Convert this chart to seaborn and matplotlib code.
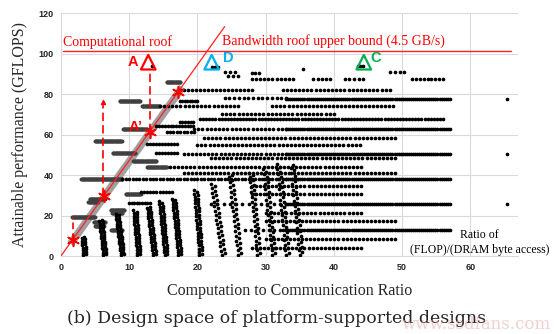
import numpy as np
import pandas as pd
import matplotlib
matplotlib.use("Agg")
import matplotlib.pyplot as plt
import seaborn as sns

# ---- design-space data -------------------------------------------------
# Dense runs of designs just left of the bandwidth roof: (perf, ctc_from, ctc_to)
seg_perf = [85.8, 76.4, 74.0, 62.5, 57.0, 51.0, 47.0, 44.2, 38.2, 30.5, 28.3, 26.5,
            22.8, 21.0, 19.4, 17.0, 15.0, 13.0]
seg_lo   = [15.5, 8.6, 11.9, 9.1, 5.0, 7.6, 10.6, 12.6, 3.0, 9.5, 4.2, 4.0,
            7.3, 7.5, 1.6, 4.8, 5.0, 7.4]
seg_hi   = [17.5, 11.6, 14.5, 12.6, 8.9, 10.9, 14.0, 15.5, 9.0, 11.7, 6.4, 5.4,
            9.3, 9.0, 5.0, 6.5, 6.3, 9.0]

# Rows of designs at a fixed performance level: (perf, ctc_from, ctc_to, spacing)
row_perf = [93.5, 94.0, 94.0, 91.0, 91.0, 90.3, 92.5, 88.8, 87.3, 87.3, 87.3, 87.3,
            81.9, 81.9, 77.4, 78.0, 76.4, 74.0, 74.0, 70.0, 67.5, 66.0, 64.0,
            62.5, 62.5, 61.0, 58.5, 55.4, 55.0, 51.0, 50.6, 50.6, 48.6, 44.2,
            41.0, 38.2, 38.2, 34.7, 31.8, 30.8, 26.0, 25.8, 25.8, 21.3, 17.4,
            12.9, 12.9, 8.4, 4.0, 77.4, 50.6, 25.8]
row_lo   = [22.2, 13.3, 43.5, 24.0, 48.3, 28.0, 35.5, 24.5, 28.0, 37.0, 41.6, 51.5,
            17.5, 32.5, 33.0, 24.0, 17.4, 14.5, 31.0, 23.6, 20.4, 17.4, 14.0,
            33.0, 19.5, 15.5, 21.0, 12.6, 20.0, 14.0, 33.0, 18.0, 22.0, 16.0,
            18.0, 9.0, 33.0, 28.0, 11.7, 28.0, 10.0, 33.0, 22.0, 30.0, 30.0,
            33.0, 27.0, 30.0, 28.0, 65.4, 65.4, 65.4]
row_hi   = [23.0, 13.3, 44.3, 25.5, 50.3, 29.0, 35.5, 26.0, 34.0, 39.5, 44.3, 56.0,
            28.0, 48.2, 57.0, 33.0, 20.0, 26.0, 48.7, 40.0, 56.0, 19.4, 19.4,
            57.0, 33.0, 19.5, 49.0, 17.0, 43.8, 17.0, 57.0, 33.0, 49.0, 44.0,
            49.0, 33.0, 57.0, 44.0, 16.3, 44.0, 13.0, 57.0, 33.0, 44.0, 49.0,
            57.0, 33.0, 49.0, 44.0, 65.4, 65.4, 65.4]
row_step = [0.4, 1.0, 0.4, 0.7, 0.6, 0.5, 1.0, 0.6, 0.6, 0.6, 0.6, 0.6,
            0.6, 0.6, 0.3, 0.7, 0.4, 0.6, 0.6, 0.6, 0.45, 0.4, 0.4,
            0.3, 0.6, 0.5, 0.6, 0.45, 0.6, 0.45, 0.3, 0.6, 0.6, 0.6,
            0.6, 0.5, 0.3, 0.6, 0.45, 0.6, 0.4, 0.3, 0.9, 0.6, 0.6,
            0.3, 0.9, 0.6, 0.6, 1.0, 1.0, 1.0]

# Columns of designs at low performance: (ctc at 0, ctc at top, top perf, spacing)
col_x0   = [3.3, 6.2, 8.8, 11.2, 13.5, 15.2, 17.2, 20.3, 23.6, 26.0,
            28.8, 31.0, 33.0, 35.0]
col_x1   = [3.0, 5.6, 8.0, 10.6, 12.6, 14.4, 16.3, 19.5, 22.0, 24.6,
            27.6, 29.6, 31.6, 33.6]
col_top  = [9.5, 18.0, 21.0, 23.0, 25.0, 27.0, 29.0, 33.0, 36.0, 40.0,
            42.0, 44.0, 46.0, 46.0]
col_step = [1.2, 1.2, 1.2, 1.3, 1.3, 1.4, 1.4, 1.6, 2.2, 2.4,
            2.4, 2.5, 2.5, 2.7]

# Roofline parameters
comp_roof = 101.0
bw_slope = 4.72
opt_ctc = [1.7, 6.3, 13.0, 17.2]

# Annotated designs
tri_names  = ["A", "D", "C"]
tri_ctc    = [12.8, 22.1, 44.4]
tri_perf   = [95.7, 95.7, 95.7]
tri_colors = ["#FF0000", "#00B0F0", "#00B050"]

xticks = [0, 10, 20, 30, 40, 50, 60]
yticks = [0, 20, 40, 60, 80, 100, 120]


def expand_rows():
    xs, ys = [], []
    for p, lo, hi, st in zip(row_perf, row_lo, row_hi, row_step):
        n = max(int(round((hi - lo) / st)) + 1, 1)
        xs.extend(np.linspace(lo, hi, n)); ys.extend([p] * n)
    # each column is a pair of staggered dot strands
    for x0, x1, top, st in zip(col_x0, col_x1, col_top, col_step):
        for dx, dy in [(0.0, 0.0), (0.45, st / 2)]:
            pv = np.arange(0.4 + dy, top + 0.01, st)
            xs.extend(x0 + dx + (x1 - x0) * pv / top); ys.extend(pv)
    return pd.DataFrame({"ctc": xs, "perf": ys})


def expand_segments():
    xs, ys = [], []
    for p, lo, hi in zip(seg_perf, seg_lo, seg_hi):
        n = int(round((hi - lo) / 0.1)) + 1
        xs.extend(np.linspace(lo, hi, n)); ys.extend([p] * n)
    return pd.DataFrame({"ctc": xs, "perf": ys})


dots = expand_rows()
segs = expand_segments()

sns.set_theme(style="white")
plt.rcParams["font.family"] = ["Liberation Serif", "DejaVu Serif"]

fig = plt.figure(figsize=(5.54, 3.34), dpi=100)
ax = fig.add_axes([0.110, 0.2335, 0.825, 0.7275])
ax.set_xlim(0, 67)
ax.set_ylim(0, 120)

# Light grid and axes lines
for v in xticks[1:]:
    ax.axvline(v, color="#D9D9D9", lw=0.8, zorder=0)
for v in yticks[1:]:
    ax.axhline(v, color="#D9D9D9", lw=0.8, zorder=0)
for side in ["top", "right"]:
    ax.spines[side].set_visible(False)
for side in ["left", "bottom"]:
    ax.spines[side].set_color("#D9D9D9")
    ax.spines[side].set_linewidth(0.8)

# Bandwidth roof highlight band
band_x = np.array([1.4, 17.8])
ax.plot(band_x, band_x * bw_slope - 0.6, color="#A0A0A0", lw=5.5,
        solid_capstyle="butt", zorder=1)

sns.scatterplot(data=segs, x="ctc", y="perf", ax=ax, color="#404040", s=8,
                linewidth=0, zorder=2, legend=False)
sns.scatterplot(data=dots, x="ctc", y="perf", ax=ax, color="black", s=7,
                linewidth=0, zorder=3, legend=False)

# Roofs
ax.plot([0.3, 66], [comp_roof, comp_roof], color="#FF2020", lw=1.0, zorder=4)
bw_x = np.array([0, 24.0])
ax.plot(bw_x, bw_x * bw_slope, color="#FF2020", lw=0.9, zorder=4)

ax.text(0.3, comp_roof + 1.2, "Computational roof", color="#FF0000",
        fontsize=10, ha="left", va="bottom")
ax.text(23.6, 106, "Bandwidth roof upper bound (4.5 GB/s)", color="#FF0000",
        fontsize=10, ha="left", va="center")

# Optimal points on the bandwidth roof and their dashed projections
opt_perf = [c * bw_slope for c in opt_ctc]
ax.scatter(opt_ctc, opt_perf, marker=(6, 2, 0), s=70, color="#FF0000",
           linewidths=1.2, zorder=6)
ax.plot([opt_ctc[0]] * 2, [opt_perf[0], 19.4], color="#FF0000", lw=1.2,
        dashes=(4, 2.5), zorder=5)
ax.plot([opt_ctc[1] - 0.1] * 2, [opt_perf[1], 75.5], color="#FF0000", lw=1.2,
        dashes=(5, 2.5), zorder=5)
ax.scatter([opt_ctc[1] - 0.1], [76.2], marker="^", s=8, color="#FF0000", zorder=6)
ax.plot([opt_ctc[2]] * 2, [opt_perf[2], 92.5], color="#FF0000", lw=1.2,
        dashes=(5, 2.5), zorder=5)

# Design triangles
for name, cx, py, col in zip(tri_names, tri_ctc, tri_perf, tri_colors):
    ax.scatter([cx], [py], marker="^", s=110, facecolor="none", edgecolor=col,
               linewidths=1.6, zorder=7)
ax.text(10.5, 95.7, "A", color="#FF0000", fontsize=10.5, fontweight="bold",
        family="Liberation Sans", ha="center", va="center")
ax.text(11.0, 63.8, "A\u2019", color="#FF0000", fontsize=10.5, fontweight="bold",
        family="Liberation Sans", ha="center", va="center")
ax.text(24.6, 98.0, "D", color="#00B0F0", fontsize=10.5, fontweight="bold",
        family="Liberation Sans", ha="center", va="center")
ax.text(46.2, 97.6, "C", color="#00B050", fontsize=10.5, fontweight="bold",
        family="Liberation Sans", ha="center", va="center")

ax.text(61.4, 10.3, "Ratio of", fontsize=8.5, ha="center", va="center", color="black")
ax.text(61.4, 3.2, "(FLOP)/(DRAM byte access)", fontsize=8.5, ha="center",
        va="center", color="black")

ax.set_xticks(xticks)
ax.set_yticks(yticks)
ax.set_xticklabels([str(v) for v in xticks], family="Liberation Sans",
                   fontweight="bold", fontsize=6.5)
ax.set_yticklabels([str(v) for v in yticks], family="Liberation Sans",
                   fontweight="bold", fontsize=6.5)
ax.tick_params(length=0, pad=5)
ax.set_xlabel("Computation to Communication Ratio", fontsize=11.5, labelpad=8)
ax.set_ylabel("Attainable performance (GFLOPS)", fontsize=11.5, labelpad=8)

fig.text(0.5, 0.045, "(b) Design space of platform-supported designs",
         ha="center", va="center", fontsize=12.5, family="DejaVu Serif")
fig.text(0.86, 0.028, "www.ssdfans.com", ha="center", va="center",
         fontsize=12, color="#E8A0A0", alpha=0.5, family="DejaVu Serif")

fig.savefig("out.png", dpi=100)
